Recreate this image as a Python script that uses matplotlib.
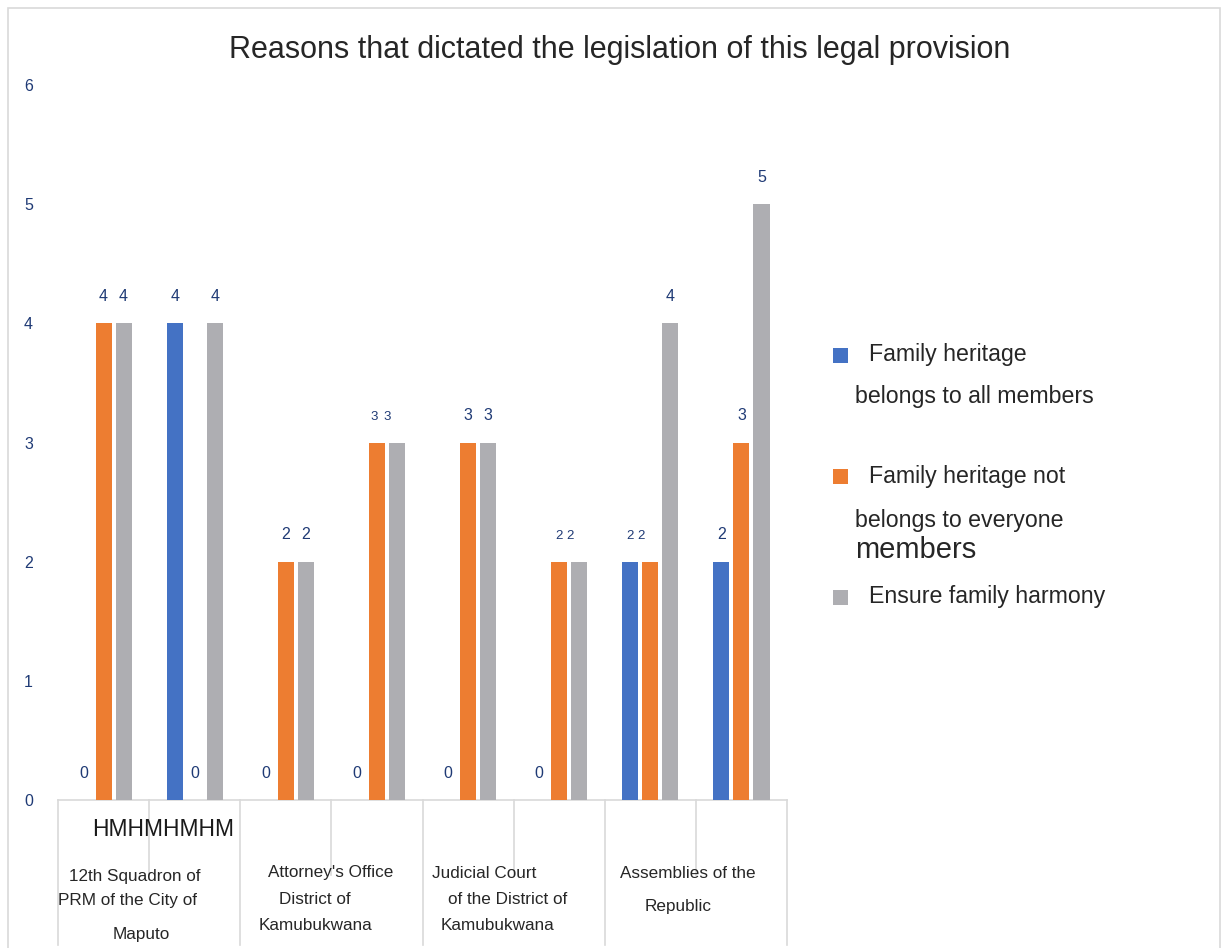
import matplotlib
matplotlib.use("Agg")
import matplotlib.pyplot as plt
from matplotlib.patches import Rectangle
import matplotlib.transforms as mtransforms
import numpy as np

plt.rcParams['font.family'] = ['Liberation Sans', 'DejaVu Sans']

title = "Reasons that dictated the legislation of this legal provision"
series_names = ["Family heritage belongs to all members",
                "Family heritage not belongs to everyone members",
                "Ensure family harmony"]
blue_vals = [0, 4, 0, 0, 0, 0, 2, 2]
orange_vals = [4, 0, 2, 3, 3, 2, 2, 3]
gray_vals = [4, 4, 2, 3, 3, 2, 4, 5]
yticks = [0, 1, 2, 3, 4, 5, 6]
category_lines = [
    ["12th Squadron of", "PRM of the City of", "Maputo"],
    ["Attorney's Office", "District of", "Kamubukwana"],
    ["Judicial Court", "of the District of", "Kamubukwana"],
    ["Assemblies of the", "Republic"],
]
sub_label = "HMHMHMHM"

colors = ["#4472C4", "#ED7D31", "#AEAEB2"]
label_color = "#1F3A75"
W, H = 1228, 948

fig = plt.figure(figsize=(W / 100, H / 100), dpi=100)

def px(x, y):
    return x / W, 1 - y / H

# outer frame
fig.patches.append(Rectangle(px(8, 960), (1220 - 8) / W, (960 - 8) / H,
                             transform=fig.transFigure, fill=False,
                             edgecolor="#d9d9d9", linewidth=1.2))

ax = fig.add_axes([58 / W, 1 - 800 / H, (787 - 58) / W, (800 - 85) / H])
n = len(blue_vals)
x = np.arange(n)
bw = 0.176
off = 0.22
series = [blue_vals, orange_vals, gray_vals]
# smaller, tighter labels (series index, group index) -> x offset in points
small_labels = {(1, 3): -2, (2, 3): -7, (1, 5): 0, (2, 5): -6.5, (0, 6): 0, (1, 6): -7}
for si, (vals, c) in enumerate(zip(series, colors)):
    xs = x + (si - 1) * off
    ax.bar(xs, vals, width=bw, color=c, zorder=3)
    for gi, (xx, v) in enumerate(zip(xs, vals)):
        if (si, gi) in small_labels:
            fs, dx = 9.5, small_labels[(si, gi)]
        else:
            fs, dx = 11.5, 0
        ax.annotate(str(v), (xx, v), xytext=(dx, 14), textcoords="offset points",
                    ha="center", va="bottom", fontsize=fs, color=label_color)

ax.set_xlim(-0.5, n - 0.5)
ax.set_ylim(0, 6)
ax.set_yticks(yticks)
ax.set_yticklabels([str(t) for t in yticks], color=label_color, fontsize=11.5)
ax.tick_params(axis="y", length=0, pad=18)
ax.set_xticks([])
for s in ["top", "right", "left"]:
    ax.spines[s].set_visible(False)
ax.spines["bottom"].set_color("#d9d9d9")
ax.spines["bottom"].set_linewidth(1.2)

trans = mtransforms.blended_transform_factory(ax.transData, ax.transAxes)
ax_h = 800 - 85
for b in np.arange(-0.5, n, 1.0):
    k = int(round(b + 0.5))
    depth = (945 - 800) / ax_h if k % 2 == 0 else (875 - 800) / ax_h
    ax.plot([b, b], [0, -depth], transform=trans, color="#d9d9d9",
            linewidth=1.2, clip_on=False)

# title
fig.text(*px(620, 50), title, ha="center", va="center", fontsize=22, color="#262626")

# sub labels
fig.text(*px(163, 830), sub_label, ha="center", va="center", fontsize=16.5, color="#1a1a1a")

# category labels
cat_pos = [
    [(135, 877), (128, 900), (141, 934)],
    [(331, 873), (315, 899), (315, 926)],
    [(484, 873), (508, 900), (498, 926)],
    [(688, 873), (678, 906)],
]
for lines, poss in zip(category_lines, cat_pos):
    for t, (cx, cy) in zip(lines, poss):
        fig.text(*px(cx, cy), t, ha="center", va="center", fontsize=12.3, color="#262626")

# legend
fs_leg = 16.7
leg_entries = [
    (colors[0], 355, [("Family heritage", 869, 355, fs_leg), ("belongs to all members", 855, 397, fs_leg)]),
    (colors[1], 476, [("Family heritage not", 869, 476, fs_leg), ("belongs to everyone", 855, 520, fs_leg),
                      ("members", 855, 550, 21)]),
    (colors[2], 597, [("Ensure family harmony", 869, 597, fs_leg)]),
]
for c, sy, texts in leg_entries:
    fig.patches.append(Rectangle(px(833, sy + 8), 15 / W, 15 / H,
                                 transform=fig.transFigure, facecolor=c, edgecolor="none"))
    for t, tx, ty, fs in texts:
        fig.text(*px(tx, ty), t, ha="left", va="center", fontsize=fs, color="#262626")

fig.savefig("out.png", dpi=100, facecolor="white")
